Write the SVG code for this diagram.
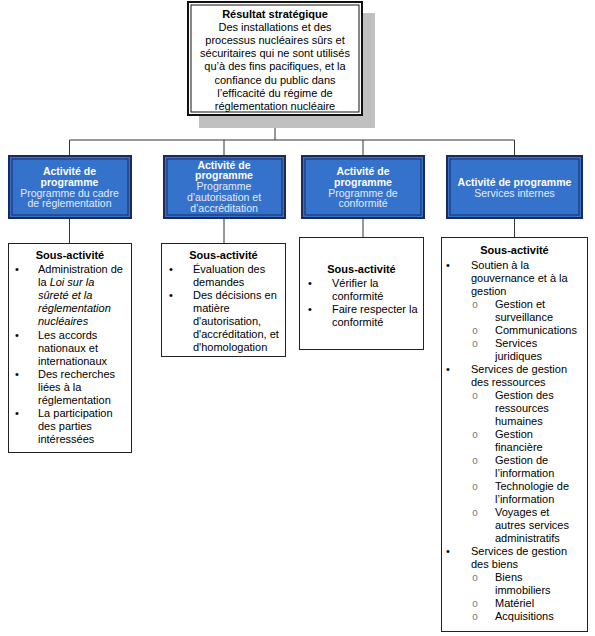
<svg xmlns="http://www.w3.org/2000/svg" width="595" height="636" viewBox="0 0 595 636">
<style>
text{font-family:"Liberation Sans",Arial,sans-serif;font-size:11px;fill:#000}
.h{font-weight:bold}
.c{text-anchor:middle}
.bw{font-weight:bold;fill:#fff;font-size:10.5px;text-anchor:middle}
.lw{fill:#E6ECF8;font-size:10.5px;text-anchor:middle}
.it{font-style:italic}
.o{font-family:"Liberation Mono","Courier New",monospace;font-size:10px;fill:#777}
.box{fill:#fff;stroke:#222;stroke-width:1}
.blue{fill:#3572CB;stroke:#1B2A5E;stroke-width:2}
.bluein{fill:none;stroke:#1B2A5E;stroke-width:1}
.con{stroke:#333;stroke-width:1;fill:none}
</style>
<rect width="595" height="636" fill="#fff"/>
<g id="connectors">
<path class="con" d="M275 116V140M69.5 140H514.5M69.5 140V155M224 140V155M363 140V155M514.5 140V155M69.5 219V243M224 219V243M363 219V237M514.5 219V237"/>
</g>
<g id="top">
<rect x="199" y="13" width="176" height="115" fill="#C0C0C0"/>
<rect x="188" y="2" width="174" height="113" fill="#fff" stroke="#111" stroke-width="2"/>
<rect x="191" y="5" width="168" height="107" fill="none" stroke="#111" stroke-width="1"/>
<text class="c h" x="275" y="17.5">Résultat stratégique</text>
<text class="c" x="275" y="30.7">Des installations et des</text>
<text class="c" x="275" y="43.9">processus nucléaires sûrs et</text>
<text class="c" x="275" y="57.1">sécuritaires qui ne sont utilisés</text>
<text class="c" x="275" y="70.3">qu’à des fins pacifiques, et la</text>
<text class="c" x="275" y="83.5">confiance du public dans</text>
<text class="c" x="275" y="96.7">l’efficacité du régime de</text>
<text class="c" x="275" y="109.9">réglementation nucléaire</text>
</g>
<g id="prog1">
<rect class="blue" x="9" y="156" width="122" height="62"/>
<rect class="bluein" x="12" y="159" width="116" height="56"/>
<text class="bw" x="69.5" y="175">Activité de</text>
<text class="bw" x="69.5" y="185.8">programme</text>
<text class="lw" x="69.5" y="196.6">Programme du cadre</text>
<text class="lw" x="69.5" y="207.4">de réglementation</text>
</g>
<g id="prog2">
<rect class="blue" x="164" y="156" width="121" height="62"/>
<rect class="bluein" x="167" y="159" width="115" height="56"/>
<text class="bw" x="224" y="168.5">Activité de</text>
<text class="bw" x="224" y="179.3">programme</text>
<text class="lw" x="224" y="190.1">Programme</text>
<text class="lw" x="224" y="200.9">d’autorisation et</text>
<text class="lw" x="224" y="211.7">d’accréditation</text>
</g>
<g id="prog3">
<rect class="blue" x="302" y="156" width="122" height="62"/>
<rect class="bluein" x="305" y="159" width="116" height="56"/>
<text class="bw" x="363" y="175">Activité de</text>
<text class="bw" x="363" y="185.8">programme</text>
<text class="lw" x="363" y="196.6">Programme de</text>
<text class="lw" x="363" y="207.4">conformité</text>
</g>
<g id="prog4">
<rect class="blue" x="447" y="156" width="135" height="62"/>
<rect class="bluein" x="450" y="159" width="129" height="56"/>
<text class="bw" x="514.5" y="186">Activité de programme</text>
<text class="lw" x="514.5" y="196.8">Services internes</text>
</g>
<g id="sub1">
<rect class="box" x="8.5" y="243.5" width="123" height="209"/>
<text class="c h" x="70" y="259">Sous-activité</text>
<text x="15" y="273">•</text><text x="38" y="273">Administration de</text>
<text x="38" y="286.1">la <tspan class="it">Loi sur la</tspan></text>
<text class="it" x="38" y="299.2">sûreté et la</text>
<text class="it" x="38" y="312.3">réglementation</text>
<text class="it" x="38" y="325.4">nucléaires</text>
<text x="15" y="338.5">•</text><text x="38" y="338.5">Les accords</text>
<text x="38" y="351.6">nationaux et</text>
<text x="38" y="364.7">internationaux</text>
<text x="15" y="377.8">•</text><text x="38" y="377.8">Des recherches</text>
<text x="38" y="390.9">liées à la</text>
<text x="38" y="404">réglementation</text>
<text x="15" y="417.1">•</text><text x="38" y="417.1">La participation</text>
<text x="38" y="430.2">des parties</text>
<text x="38" y="443.3">intéressées</text>
</g>
<g id="sub2">
<rect class="box" x="161.5" y="243.5" width="124" height="113"/>
<text class="c h" x="223.5" y="259">Sous-activité</text>
<text x="169" y="273">•</text><text x="193" y="273">Évaluation des</text>
<text x="193" y="286">demandes</text>
<text x="169" y="299">•</text><text x="193" y="299">Des décisions en</text>
<text x="193" y="312">matière</text>
<text x="193" y="325">d'autorisation,</text>
<text x="193" y="338">d'accréditation, et</text>
<text x="193" y="351">d'homologation</text>
</g>
<g id="sub3">
<rect class="box" x="299.5" y="237.5" width="124" height="112"/>
<text class="c h" x="361.5" y="273">Sous-activité</text>
<text x="308" y="287">•</text><text x="332" y="287">Vérifier la</text>
<text x="332" y="300">conformité</text>
<text x="308" y="313">•</text><text x="332" y="313">Faire respecter la</text>
<text x="332" y="326">conformité</text>
</g>
<g id="sub4">
<rect class="box" x="441.5" y="237.5" width="146" height="394"/>
<text class="c h" x="514.5" y="254">Sous-activité</text>
<text x="446" y="269">•</text><text x="471" y="269">Soutien à la</text>
<text x="471" y="282">gouvernance et à la</text>
<text x="471" y="295">gestion</text>
<text class="o" x="472" y="308">o</text><text x="495" y="308">Gestion et</text>
<text x="495" y="321">surveillance</text>
<text class="o" x="472" y="334">o</text><text x="495" y="334">Communications</text>
<text class="o" x="472" y="347">o</text><text x="495" y="347">Services</text>
<text x="495" y="360">juridiques</text>
<text x="446" y="373">•</text><text x="471" y="373">Services de gestion</text>
<text x="471" y="386">des ressources</text>
<text class="o" x="472" y="399">o</text><text x="495" y="399">Gestion des</text>
<text x="495" y="412">ressources</text>
<text x="495" y="425">humaines</text>
<text class="o" x="472" y="438">o</text><text x="495" y="438">Gestion</text>
<text x="495" y="451">financière</text>
<text class="o" x="472" y="464">o</text><text x="495" y="464">Gestion de</text>
<text x="495" y="477">l’information</text>
<text class="o" x="472" y="490">o</text><text x="495" y="490">Technologie de</text>
<text x="495" y="503">l’information</text>
<text class="o" x="472" y="516">o</text><text x="495" y="516">Voyages et</text>
<text x="495" y="529">autres services</text>
<text x="495" y="542">administratifs</text>
<text x="446" y="555">•</text><text x="471" y="555">Services de gestion</text>
<text x="471" y="568">des biens</text>
<text class="o" x="472" y="581">o</text><text x="495" y="581">Biens</text>
<text x="495" y="594">immobiliers</text>
<text class="o" x="472" y="607">o</text><text x="495" y="607">Matériel</text>
<text class="o" x="472" y="620">o</text><text x="495" y="620">Acquisitions</text>
</g>
</svg>
